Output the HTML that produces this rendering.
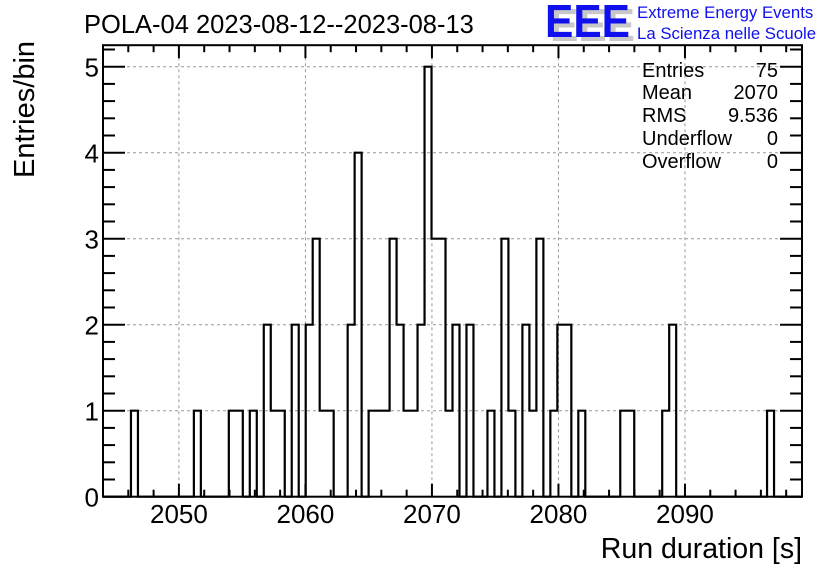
<!DOCTYPE html>
<html><head><meta charset="utf-8"><style>
body{margin:0;background:#fff;}
svg{display:block;font-family:"Liberation Sans",sans-serif;}
</style></head><body>
<svg id="chart" width="836" height="572" viewBox="0 0 836 572">
<rect width="836" height="572" fill="#fff"/>
<text x="84" y="33" font-size="25.5">POLA-04 2023-08-12--2023-08-13</text>
<g font-weight="bold" font-size="46">
<text x="550" y="41" fill="#c8c8c8" textLength="85" lengthAdjust="spacingAndGlyphs">EEE</text>
<text x="545" y="37" fill="#1010ee" textLength="85" lengthAdjust="spacingAndGlyphs">EEE</text>
</g>
<text x="637" y="18" font-size="16.8" fill="#1010ee">Extreme Energy Events</text>
<text x="637" y="39" font-size="16.8" fill="#1010ee">La Scienza nelle Scuole</text>
<g id="grid"></g>
<g id="hist"></g>
<g id="axes"></g>
<g font-size="20">
<text x="642" y="77">Entries</text><text x="778" y="77" text-anchor="end">75</text>
<text x="642" y="99">Mean</text><text x="778" y="99" text-anchor="end">2070</text>
<text x="642" y="122">RMS</text><text x="778" y="122" text-anchor="end">9.536</text>
<text x="642" y="145">Underflow</text><text x="778" y="145" text-anchor="end">0</text>
<text x="642" y="168">Overflow</text><text x="778" y="168" text-anchor="end">0</text>
</g>
<text transform="translate(34,178) rotate(-90)" font-size="29">Entries/bin</text>
<text x="802" y="558" font-size="28.5" text-anchor="end">Run duration [s]</text>
</svg>
<script>
const binIndex = [4,13,18,19,21,23,24,25,27,29,30,31,32,35,36,38,39,40,41,42,43,44,45,46,47,48,49,50,52,55,57,58,60,61,62,64,65,66,68,74,75,80,81,95];
const binCounts = [1,1,1,1,1,2,1,1,2,2,3,1,1,2,4,1,1,1,3,2,1,1,2,5,3,3,1,2,2,1,3,1,2,1,3,1,2,2,1,1,1,1,2,1];
const xTicks = [2050,2060,2070,2080,2090];
const yTicks = [0,1,2,3,4,5];
const nBins = 100, xMin = 2044.0, xMax = 2099.25, yMax = 5.25;
const L=103,R=802,T=45.2,B=496.7;
const sx=v=>L+(v-xMin)/(xMax-xMin)*(R-L);
const sy=v=>B-v/yMax*(B-T);
const NS="http://www.w3.org/2000/svg";
function mk(tag,attrs,parent){const e=document.createElementNS(NS,tag);for(const k in attrs)e.setAttribute(k,attrs[k]);parent.appendChild(e);return e;}
const grid=document.getElementById('grid'),hist=document.getElementById('hist'),axes=document.getElementById('axes');
xTicks.forEach(t=>{const l=mk('line',{x1:sx(t),x2:sx(t),y1:T,y2:B,stroke:'#999','stroke-dasharray':'3,3','stroke-width':1},grid);
});
yTicks.forEach(t=>{if(t===0)return;const l=mk('line',{x1:L,x2:R,y1:sy(t),y2:sy(t),stroke:'#999','stroke-dasharray':'3,3','stroke-width':1},grid);
});
const counts=new Array(nBins).fill(0);binIndex.forEach((b,i)=>counts[b]=binCounts[i]);
const bw=(xMax-xMin)/nBins;
let d=`M${L},${sy(0)}`;
for(let i=0;i<nBins;i++){const x0=sx(xMin+i*bw),x1=sx(xMin+(i+1)*bw);d+=` L${x0},${sy(counts[i])} L${x1},${sy(counts[i])}`;}
d+=` L${R},${sy(0)}`;
const p=mk('path',{d:d,fill:'none',stroke:'#000','stroke-width':2.2},hist);

const fr=mk('rect',{x:L,y:T,width:R-L,height:B-T,fill:'none',stroke:'#000','stroke-width':2},axes);

for(let v=2044;v<=2098;v+=2){const major=v%10===0;const len=major?13:7;const x=sx(v);
 const a=mk('line',{x1:x,x2:x,y1:B,y2:B-len,stroke:'#000','stroke-width':2},axes);
 const b=mk('line',{x1:x,x2:x,y1:T,y2:T+len,stroke:'#000','stroke-width':2},axes);}
xTicks.forEach(t=>{const tx=mk('text',{x:sx(t),y:523,'font-size':26,'text-anchor':'middle'},axes);tx.textContent=t;
});
for(let k=0;k<=26;k++){const v=k*0.2;const major=k%5===0;const len=major?22:12;const y=sy(v);
 const a=mk('line',{x1:L,x2:L+len,y1:y,y2:y,stroke:'#000','stroke-width':2},axes);
 const b=mk('line',{x1:R,x2:R-len,y1:y,y2:y,stroke:'#000','stroke-width':2},axes);}
yTicks.forEach(t=>{const tx=mk('text',{x:99,y:sy(t)+10,'font-size':26,'text-anchor':'end'},axes);tx.textContent=t;
});
</script>
</body></html>
